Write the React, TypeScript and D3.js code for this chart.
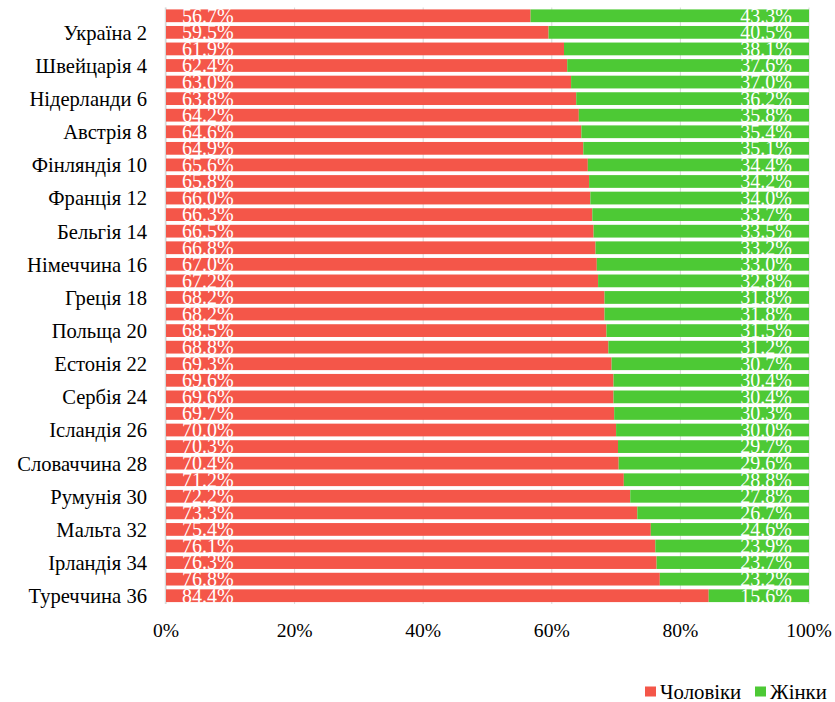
import { useEffect } from "react";
import * as d3 from "d3";

// row labels: only every second one is printed on the axis
const categories = [
  "1", "Україна 2", "3", "Швейцарія 4", "5", "Нідерланди 6", "7", "Австрія 8",
  "9", "Фінляндія 10", "11", "Франція 12", "13", "Бельгія 14", "15", "Німеччина 16",
  "17", "Греція 18", "19", "Польща 20", "21", "Естонія 22", "23", "Сербія 24",
  "25", "Ісландія 26", "27", "Словаччина 28", "29", "Румунія 30", "31", "Мальта 32",
  "33", "Ірландія 34", "35", "Туреччина 36",
];

const men = [
  56.7, 59.5, 61.9, 62.4, 63.0, 63.8, 64.2, 64.6, 64.9, 65.6, 65.8, 66.0,
  66.3, 66.5, 66.8, 67.0, 67.2, 68.2, 68.2, 68.5, 68.8, 69.3, 69.6, 69.6,
  69.7, 70.0, 70.3, 70.4, 71.2, 72.2, 73.3, 75.4, 76.1, 76.3, 76.8, 84.4,
];

const women = [
  43.3, 40.5, 38.1, 37.6, 37.0, 36.2, 35.8, 35.4, 35.1, 34.4, 34.2, 34.0,
  33.7, 33.5, 33.2, 33.0, 32.8, 31.8, 31.8, 31.5, 31.2, 30.7, 30.4, 30.4,
  30.3, 30.0, 29.7, 29.6, 28.8, 27.8, 26.7, 24.6, 23.9, 23.7, 23.2, 15.6,
];

const seriesNames = ["Чоловіки", "Жінки"];
const xTicks = [0, 0.2, 0.4, 0.6, 0.8, 1];

const RED = "#F45649";
const GREEN = "#4DC935";
const GRID = "#D9D9D9";
const FONT = "Liberation Serif";

export default function App() {
  useEffect(() => {
    document.body.style.margin = "0";
  }, []);

  const width = 835;
  const height = 702;

  const x = d3.scaleLinear().domain([0, 1]).range([166, 809]);
  const y = d3
    .scaleBand<string>()
    .domain(categories)
    .range([7.5, 604])
    .paddingInner(0.23)
    .paddingOuter(0.115);

  const rows = categories.map((name, i) => {
    const total = men[i] + women[i];
    return { name, i, m: men[i] / total };
  });

  const fmt = (v: number) => `${v.toFixed(1)}%`;
  const bw = y.bandwidth();

  return (
    <svg width={width} height={height} style={{ display: "block" }}>
      <rect width={width} height={height} fill="#ffffff" />

      {/* vertical gridlines */}
      {xTicks.map((t) => (
        <line key={t} x1={x(t)} x2={x(t)} y1={7.5} y2={604} stroke={GRID} strokeWidth={1} />
      ))}
      <line x1={165.5} x2={165.5} y1={7.5} y2={604} stroke={GRID} strokeWidth={1.5} />

      {rows.map((r) => {
        const top = y(r.name) ?? 0;
        return (
          <g key={r.i}>
            <rect x={x(0)} y={top} width={x(r.m) - x(0)} height={bw} fill={RED} />
            <rect x={x(r.m)} y={top} width={x(1) - x(r.m)} height={bw} fill={GREEN} />
            <text x={182} y={top + bw + 0.5} fill="#ffffff" fontSize={20} fontFamily={FONT}>
              {fmt(men[r.i])}
            </text>
            <text
              x={792}
              y={top + bw + 0.5}
              fill="#ffffff"
              fontSize={20}
              fontFamily={FONT}
              textAnchor="end"
            >
              {fmt(women[r.i])}
            </text>
          </g>
        );
      })}

      {/* category labels, every second row */}
      {rows
        .filter((r) => r.i % 2 === 1)
        .map((r) => (
          <text
            key={r.name}
            x={147}
            y={(y(r.name) ?? 0) + bw / 2}
            dy="0.36em"
            textAnchor="end"
            fontSize={20.6}
            fontFamily={FONT}
            fill="#000"
          >
            {r.name}
          </text>
        ))}

      {/* x tick labels */}
      {xTicks.map((t) => (
        <text
          key={t}
          x={x(t)}
          y={636.5}
          textAnchor="middle"
          fontSize={19.6}
          fontFamily={FONT}
          fill="#000"
        >
          {`${Math.round(t * 100)}%`}
        </text>
      ))}

      {/* legend */}
      <g fontFamily={FONT} fontSize={20.8} fill="#000">
        <rect x={645} y={686.5} width={11} height={10} fill={RED} />
        <text x={660} y={699}>
          {seriesNames[0]}
        </text>
        <rect x={755} y={686.5} width={11} height={10} fill={GREEN} />
        <text x={770} y={699}>
          {seriesNames[1]}
        </text>
      </g>
    </svg>
  );
}
